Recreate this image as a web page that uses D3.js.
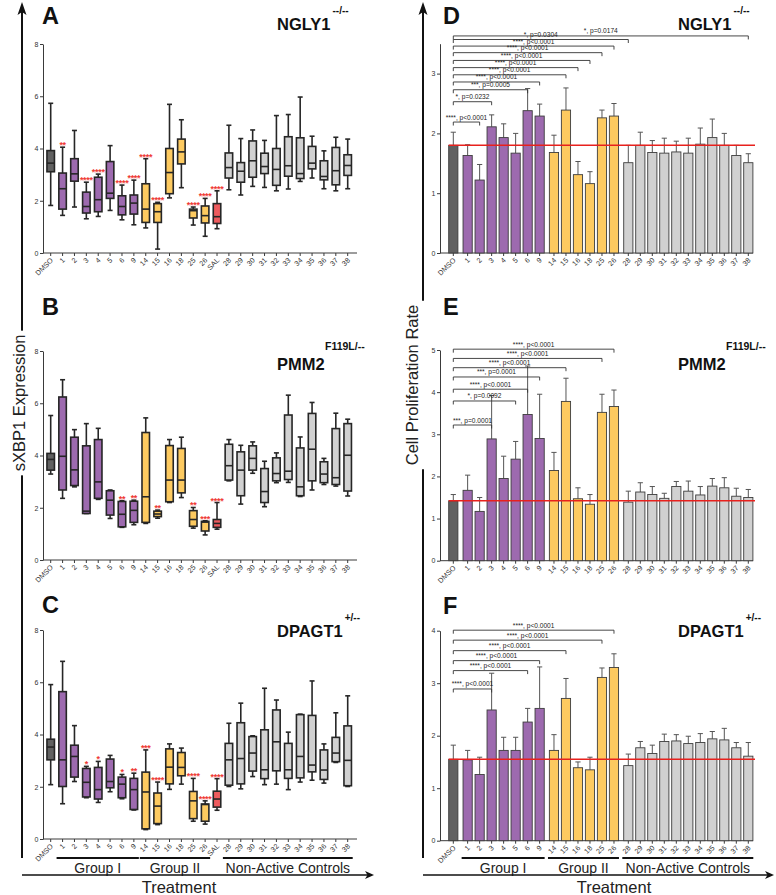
<!DOCTYPE html>
<html><head><meta charset="utf-8">
<script src="https://cdn.jsdelivr.net/npm/d3@7"></script>
<style>
body{margin:0;background:#fff}
svg{display:block}
text{font-family:Arial,"Liberation Sans",Helvetica,sans-serif}
</style>
</head><body>
<svg id="chart" width="776" height="895"></svg>
<script>
// ---------------- DATA ----------------
const boxCategories = ["DMSO","1","2","3","4","5","6","9","14","15","16","18","25","26","SAL","28","29","30","31","32","33","34","35","36","37","38"];
const barCategories = ["DMSO","1","2","3","4","5","6","9","14","15","16","18","25","26","28","29","30","31","32","33","34","35","36","37","38"];
const groupI = ["1","2","3","4","5","6","9"];
const groupII = ["14","15","16","18","25","26"];
const controls = ["28","29","30","31","32","33","34","35","36","37","38"];
const groupLabels = ["Group I","Group II","Non-Active Controls"];
const boxTicks = [0,2,4,6,8];

// box stats: [min, q1, median, q3, max]
const ngly1Box = [
 [1.82,3.11,3.44,3.92,5.73],[1.44,1.68,2.46,3.06,4.05],[1.76,2.75,3.03,3.61,4.69],[1.31,1.53,1.78,2.33,2.71],
 [1.40,1.58,2.04,2.90,3.02],[1.63,2.09,2.29,3.50,4.11],[1.27,1.46,1.78,2.19,2.60],[1.08,1.49,1.91,2.22,2.79],
 [0.96,1.17,1.68,2.65,3.61],[0.15,1.17,1.58,1.89,1.94],[2.11,2.27,3.08,4.00,5.69],[2.50,3.41,3.87,4.36,5.10],
 [1.07,1.34,1.62,1.68,1.76],[0.64,1.15,1.43,1.80,2.09],[0.93,1.13,1.39,1.89,2.38],[2.42,2.87,3.27,3.83,4.89],
 [2.22,2.71,3.13,3.46,4.38],[2.55,2.90,3.53,4.29,4.71],[2.51,3.04,3.31,3.82,4.31],[2.38,2.59,3.20,4.00,5.26],
 [2.45,2.94,3.34,4.45,5.30],[2.74,2.85,3.04,4.41,5.97],[2.87,3.22,3.44,4.08,4.47],[2.46,2.80,2.93,3.53,3.91],
 [2.38,2.61,3.15,4.04,4.43],[2.46,2.97,3.35,3.76,4.36]];
const ngly1BoxStars = {"1":"**","3":"****","4":"****","6":"****","9":"****","14":"****","15":"****","25":"****","26":"****","SAL":"****"};

const pmm2Box = [
 [3.29,3.44,3.85,4.08,5.53],[2.36,2.68,3.97,6.24,6.90],[2.80,2.85,3.45,4.70,4.99],[1.78,1.78,1.87,4.37,5.22],
 [2.32,2.36,2.99,4.61,5.04],[1.59,1.72,2.29,2.65,2.68],[1.25,1.27,1.75,2.24,2.27],[1.35,1.44,1.90,2.25,2.29],
 [1.40,1.44,2.42,4.88,5.44],[1.60,1.66,1.76,1.87,1.91],[2.20,2.23,3.06,4.38,4.61],[2.39,2.57,3.06,4.27,4.70],
 [1.22,1.29,1.55,1.89,2.01],[0.96,1.11,1.45,1.48,1.50],[1.18,1.25,1.40,1.55,2.20],[3.03,3.06,3.61,4.43,4.61],
 [2.14,2.46,3.44,4.14,4.39],[3.32,3.44,3.89,4.37,4.52],[2.04,2.20,2.62,3.50,3.78],[2.96,3.03,3.31,3.91,4.10],
 [2.97,3.08,3.40,5.55,6.31],[2.43,2.46,2.80,4.29,4.71],[2.68,3.03,4.24,5.61,6.03],[2.89,2.96,3.29,3.76,3.89],
 [2.83,2.89,3.15,5.03,5.62],[2.45,2.64,4.01,5.22,5.39]];
const pmm2BoxStars = {"6":"**","9":"**","15":"**","25":"**","26":"***","SAL":"****"};

const dpagt1Box = [
 [2.08,3.03,3.52,3.82,5.91],[1.35,2.01,3.03,5.64,6.80],[2.20,2.37,3.16,3.59,4.34],[1.58,1.61,2.17,2.70,2.78],
 [1.40,1.53,1.89,2.74,2.97],[1.81,1.96,2.20,3.06,3.20],[1.54,1.58,2.10,2.37,2.47],[1.11,1.13,1.89,2.32,2.52],
 [0.36,0.39,1.80,2.56,3.41],[0.55,0.59,1.26,1.76,2.18],[1.90,2.11,2.75,3.45,3.64],[2.10,2.42,2.74,3.31,3.48],
 [0.68,0.78,1.46,1.82,2.32],[0.57,0.68,1.32,1.34,1.46],[1.10,1.22,1.53,1.83,2.31],[2.01,2.06,3.03,3.66,4.43],
 [1.92,2.11,3.08,4.45,5.20],[2.39,2.60,3.29,3.92,3.95],[2.08,2.31,2.65,4.18,5.77],[2.10,2.61,3.72,4.94,5.32],
 [1.89,2.32,2.65,3.66,4.09],[2.18,2.34,3.16,4.76,4.78],[2.25,2.57,2.83,4.73,6.05],[2.14,2.28,2.64,3.41,3.64],
 [2.93,2.96,3.29,3.89,4.83],[2.01,2.04,3.01,4.33,5.48]];
const dpagt1BoxStars = {"3":"*","4":"*","6":"*","9":"**","14":"***","15":"****","25":"****","26":"****","SAL":"****"};

// proliferation: mean and top of error bar
const ngly1Mean = [1.80,1.63,1.22,2.11,1.93,1.67,2.38,2.29,1.68,2.39,1.31,1.16,2.26,2.29,1.51,1.80,1.68,1.67,1.69,1.67,1.82,1.93,1.80,1.63,1.51];
const ngly1Err  = [2.02,1.81,1.48,2.31,2.16,2.00,2.75,2.49,1.97,2.76,1.53,1.36,2.39,2.50,1.80,2.02,1.88,1.92,1.87,1.92,2.09,2.24,2.00,1.80,1.66];
const pmm2Mean  = [1.42,1.67,1.17,2.89,1.95,2.41,3.47,2.90,2.14,3.78,1.47,1.34,3.52,3.66,1.39,1.63,1.57,1.48,1.76,1.65,1.56,1.77,1.73,1.53,1.50];
const pmm2Err   = [1.57,2.03,1.50,3.92,2.48,2.83,4.62,3.95,2.57,4.33,1.73,1.57,3.95,4.05,1.65,1.85,1.76,1.60,1.88,1.89,1.76,1.95,1.97,1.72,1.69];
const dpagt1Mean= [1.55,1.54,1.26,2.49,1.72,1.72,2.26,2.52,1.72,2.71,1.39,1.35,3.11,3.30,1.43,1.77,1.66,1.89,1.90,1.85,1.87,1.94,1.92,1.77,1.61];
const dpagt1Err = [1.82,1.72,1.59,3.19,1.97,1.97,2.52,3.31,2.02,3.09,1.50,1.59,3.29,3.56,1.65,1.89,1.82,2.03,2.02,1.99,2.04,2.08,2.14,1.87,1.87];

// comparison brackets vs DMSO: [target, label, level (axis units)]
const ngly1Brackets = [["2","****, p<0.0001",2.19],["3","*, p=0.0232",2.53],["6","***, p=0.0005",2.73],["9","****, p<0.0001",2.86],
 ["15","****, p<0.0001",2.98],["16","****, p<0.0001",3.10],["18","****, p<0.0001",3.22],["25","****, p<0.0001",3.35],
 ["26","****, p<0.0001",3.46],["28","*, p=0.0304",3.57],["38","*, p=0.0174",3.63]];
const pmm2Brackets = [["3","***, p=0.0001",3.22],["5","*, p=0.0092",3.79],["6","****, p<0.0001",4.07],["9","***, p=0.0001",4.36],
 ["15","****, p<0.0001",4.58],["25","****, p<0.0001",4.80],["26","****, p<0.0001",5.02]];
const dpagt1Brackets = [["3","****, p<0.0001",2.89],["6","****, p<0.0001",3.24],["9","****, p<0.0001",3.43],
 ["15","****, p<0.0001",3.62],["25","****, p<0.0001",3.82],["26","****, p<0.0001",4.01]];

// ---------------- DRAWING ----------------
const svg = d3.select("#chart");
svg.append("rect").attr("width",776).attr("height",895).attr("fill","#fff");
const AX = "#3a3a3a";
const col = {DMSO:"#616161", purple:"#9d6aaf", yellow:"#fdca60", grey:"#d1d1d1", SAL:"#ee5b5e"};
function fillFor(c){
  if(c==="DMSO") return col.DMSO;
  if(groupI.includes(c)) return col.purple;
  if(groupII.includes(c)) return col.yellow;
  if(c==="SAL") return col.SAL;
  return col.grey;
}

const xBox = d3.scalePoint().domain(boxCategories).range([50.7,347.7]);
const groupOf = c => c==="DMSO"?0:groupI.includes(c)?1:groupII.includes(c)?2:3;
const gapFrac = 0.195;
const slot = c => barCategories.indexOf(c) + groupOf(c)*gapFrac;
const xBarLin = d3.scaleLinear().domain([0, slot("38")]).range([453.3,748.3]);
const xBar = c => xBarLin(slot(c));

function styleAxis(g){
  g.selectAll("path.domain").attr("stroke",AX).attr("stroke-width",1);
  g.selectAll(".tick line").attr("stroke",AX).attr("stroke-width",1);
  g.selectAll("text").attr("font-size",7).attr("fill","#333").attr("font-family","Arial,'Liberation Sans',sans-serif");
}

function xAxis(g, xfn, cats, y0, x0, x1){
  g.append("line").attr("x1",x0).attr("x2",x1).attr("y1",y0).attr("y2",y0).attr("stroke",AX).attr("stroke-width",1);
  const t = g.selectAll(".xt").data(cats).join("g").attr("class","xt").attr("transform",d=>`translate(${xfn(d)},${y0})`);
  t.append("line").attr("y2",3).attr("stroke",AX);
  t.append("text").text(d=>d).attr("font-size",7.2).attr("fill","#333").attr("text-anchor","end")
   .attr("dy","0.35em").attr("transform","translate(1,6) rotate(-45)");
}

function titles(p, xL, xG){
  svg.append("text").text(p.letter).attr("x",xL).attr("y",p.letterY).attr("font-size",23.5).attr("font-weight","bold").attr("fill","#111");
  const gt = svg.append("text").text(p.gene).attr("x",xG).attr("y",p.geneY).attr("font-size",16.5).attr("font-weight","bold").attr("fill","#111");
  if(p.supMode==="sup"){
    const w = gt.node().getComputedTextLength();
    svg.append("text").text(p.sup).attr("x",xG+w+2).attr("y",p.geneY-16).attr("font-size",10).attr("font-weight","bold").attr("fill","#111");
  } else {
    svg.append("text").text(p.sup).attr("x",xG+48).attr("y",p.geneY-20).attr("font-size",10.5).attr("font-weight","bold").attr("fill","#111");
  }
}

const boxPanels = [
  {letter:"A",gene:"NGLY1",sup:"--/--",supMode:"sup",data:ngly1Box,stars:ngly1BoxStars,y0:253,y1:44,letterY:24,geneY:30},
  {letter:"B",gene:"PMM2",sup:"F119L/--",supMode:"above",data:pmm2Box,stars:pmm2BoxStars,y0:560,y1:351,letterY:315,geneY:370},
  {letter:"C",gene:"DPAGT1",sup:"+/--",supMode:"sup",data:dpagt1Box,stars:dpagt1BoxStars,y0:839,y1:630,letterY:613,geneY:637}
];

boxPanels.forEach(p=>{
  const y = d3.scaleLinear().domain([0,8]).range([p.y0,p.y1]);
  const g = svg.append("g");
  const ga = g.append("g").attr("transform","translate(43,0)")
    .call(d3.axisLeft(y).tickValues(boxTicks).tickSize(3).tickSizeOuter(0).tickPadding(1.5).tickFormat(d3.format("d")));
  styleAxis(ga);
  xAxis(g, xBox, boxCategories, p.y0, 43, 357);
  const bw = 7.5, cw = 5;
  const bx = g.selectAll(".bx").data(boxCategories).join("g").attr("class","bx").attr("transform",d=>`translate(${xBox(d)},0)`);
  bx.each(function(c,i){
    const s = p.data[i], e = d3.select(this);
    const ln = (x1,y1,x2,y2)=>e.append("line").attr("x1",x1).attr("y1",y1).attr("x2",x2).attr("y2",y2).attr("stroke","#262626").attr("stroke-width",1.6);
    ln(0,y(s[0]),0,y(s[1])); ln(0,y(s[3]),0,y(s[4]));
    ln(-cw/2,y(s[0]),cw/2,y(s[0])); ln(-cw/2,y(s[4]),cw/2,y(s[4]));
    e.append("rect").attr("x",-bw/2).attr("width",bw).attr("y",y(s[3])).attr("height",Math.max(0.5,y(s[1])-y(s[3])))
      .attr("fill",fillFor(c)).attr("stroke","#262626").attr("stroke-width",1.6);
    ln(-bw/2,y(s[2]),bw/2,y(s[2]));
  });
  boxCategories.forEach((c,i)=>{
    if(!p.stars[c]) return;
    g.append("text").text(p.stars[c]).attr("x",xBox(c)).attr("y",y(p.data[i][4])+1).attr("text-anchor","middle")
      .attr("font-size",9).attr("font-weight","bold").attr("letter-spacing",-0.3).attr("fill","#ef3b36");
  });
  titles(p, 42, 277);
});

const barPanels = [
  {letter:"D",gene:"NGLY1",sup:"--/--",supMode:"sup",mean:ngly1Mean,err:ngly1Err,br:ngly1Brackets,y0:253,yMax:3.5,ticks:[0,1,2,3],ppu:59.8,letterY:24,geneY:30},
  {letter:"E",gene:"PMM2",sup:"F119L/--",supMode:"above",mean:pmm2Mean,err:pmm2Err,br:pmm2Brackets,y0:560.7,yMax:5,ticks:[0,1,2,3,4,5],ppu:42.14,letterY:315,geneY:370},
  {letter:"F",gene:"DPAGT1",sup:"+/--",supMode:"sup",mean:dpagt1Mean,err:dpagt1Err,br:dpagt1Brackets,y0:840.7,yMax:4,ticks:[0,1,2,3,4],ppu:52.5,letterY:614,geneY:637}
];

barPanels.forEach(p=>{
  const y = d3.scaleLinear().domain([0,p.yMax]).range([p.y0,p.y0-p.yMax*p.ppu]);
  const g = svg.append("g");
  const ga = g.append("g").attr("transform","translate(440,0)")
    .call(d3.axisLeft(y).tickValues(p.ticks).tickSize(3).tickSizeOuter(0).tickPadding(1.5).tickFormat(d3.format("d")));
  styleAxis(ga);
  xAxis(g, xBar, barCategories, p.y0, 440, 753);
  const bw = 9.2;
  barCategories.forEach((c,i)=>{
    const x = xBar(c);
    g.append("line").attr("x1",x).attr("x2",x).attr("y1",y(p.mean[i])).attr("y2",y(p.err[i])).attr("stroke","#555").attr("stroke-width",1);
    g.append("line").attr("x1",x-2.6).attr("x2",x+2.6).attr("y1",y(p.err[i])).attr("y2",y(p.err[i])).attr("stroke","#555").attr("stroke-width",1);
    g.append("rect").attr("x",x-bw/2).attr("width",bw).attr("y",y(p.mean[i])).attr("height",p.y0-y(p.mean[i]))
      .attr("fill",fillFor(c)).attr("stroke","#3c3c3c").attr("stroke-width",0.9);
  });
  g.append("line").attr("x1",xBar("DMSO")-bw/2).attr("x2",755).attr("y1",y(p.mean[0])).attr("y2",y(p.mean[0]))
    .attr("stroke","#e8211d").attr("stroke-width",1.5);
  p.br.forEach(([t,label,lv])=>{
    const xa = xBar("DMSO"), xb = xBar(t), yy = y(lv);
    g.append("path").attr("d",`M${xa},${yy+3.5}V${yy}H${xb}V${yy+3.5}`).attr("fill","none").attr("stroke","#333").attr("stroke-width",0.9);
    g.append("text").text(label).attr("x",(xa+xb)/2).attr("y",yy-2.5).attr("text-anchor","middle")
      .attr("font-size",6.6).attr("fill","#222");
  });
  titles(p, 443, 678);
});

function groupRow(xfn){
  [groupI,groupII,controls].forEach((grp,k)=>{
    const a = xfn(grp[0])-6, b = xfn(grp[grp.length-1])+5;
    svg.append("line").attr("x1",a).attr("x2",b).attr("y1",858).attr("y2",858).attr("stroke","#111").attr("stroke-width",2);
    svg.append("text").text(groupLabels[k]).attr("x",(a+b)/2).attr("y",873).attr("text-anchor","middle")
      .attr("font-size",14).attr("fill","#222");
  });
}
groupRow(xBox); groupRow(xBar);

function vArrow(x, title, cy, base){
  svg.append("line").attr("x1",x).attr("x2",x).attr("y1",12).attr("y2",858).attr("stroke","#111").attr("stroke-width",2);
  svg.append("path").attr("d",`M${x},2 L${x+4.5},15 L${x},12 L${x-4.5},15 Z`).attr("fill","#111");
  const bg = svg.append("rect").attr("fill","#fff");
  const t = svg.append("text").text(title).attr("transform",`translate(${base},${cy}) rotate(-90)`).attr("text-anchor","middle")
    .attr("font-size",16.5).attr("fill","#222");
  const w = t.node().getComputedTextLength();
  bg.attr("x",Math.min(x,base)-14).attr("width",Math.abs(x-base)+20).attr("y",cy-w/2-4).attr("height",w+8);
}
vArrow(22,"sXBP1 Expression",403,25);
vArrow(423,"Cell Proliferation Rate",385,418);

function hArrow(x0,x1,cx){
  svg.append("line").attr("x1",x0).attr("x2",x1-6).attr("y1",875).attr("y2",875).attr("stroke","#111").attr("stroke-width",1.5);
  svg.append("path").attr("d",`M${x1},875 L${x1-9},871 L${x1-6.5},875 L${x1-9},879 Z`).attr("fill","#111");
  svg.append("text").text("Treatment").attr("x",cx).attr("y",893).attr("text-anchor","middle").attr("font-size",16.5).attr("fill","#222");
}
hArrow(22,374,179);
hArrow(423,774,614);
</script>
</body></html>
